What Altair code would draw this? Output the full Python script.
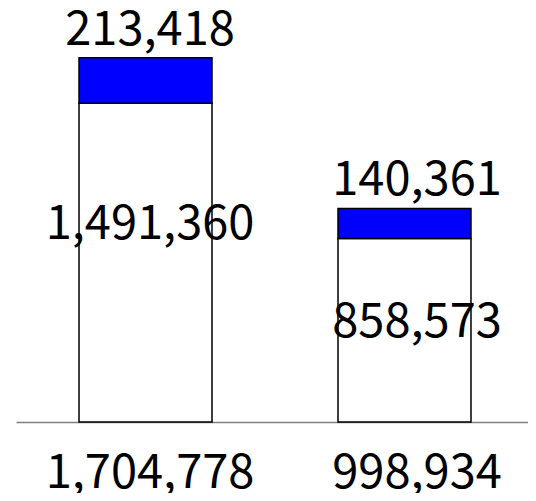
import altair as alt
import pandas as pd

categories = ["1", "2"]
base_values = [1491360, 858573]
top_values = [213418, 140361]
totals = [1704778, 998934]

rows = []
for c, b, t in zip(categories, base_values, top_values):
    rows.append({"cat": c, "part": "base", "order": 0, "value": b})
    rows.append({"cat": c, "part": "top", "order": 1, "value": t})
df = pd.DataFrame(rows)

lab = pd.DataFrame({
    "cat": categories,
    "base": base_values,
    "top": top_values,
    "total": totals,
})
lab["zero"] = 0

FONT = "Noto Sans CJK JP"
FS = 47

xscale = alt.Scale(paddingInner=0.4865, paddingOuter=0.2317, align=0.525)
x = alt.X("cat:N", sort=categories, scale=xscale,
          axis=alt.Axis(labels=False, ticks=False, title=None, grid=False,
                        domainColor="#808080", domainWidth=1.5))
yscale = alt.Scale(domain=[0, 1937000], nice=False, zero=True)

bars = alt.Chart(df).mark_bar(stroke="black", strokeWidth=1.5).encode(
    x=x,
    y=alt.Y("value:Q", stack="zero", scale=yscale, axis=None),
    color=alt.Color("part:N", scale=alt.Scale(domain=["base", "top"], range=["white", "#0000ff"]), legend=None),
    order=alt.Order("order:Q"),
)

xt = alt.X("cat:O", sort=categories, axis=None,
           scale=alt.Scale(type="point", padding=0.4588, align=0.547))

top_txt = alt.Chart(lab).mark_text(font=FONT, fontSize=FS, baseline="bottom", dy=-3, color="black").encode(
    x=xt,
    y=alt.Y("total:Q", scale=yscale),
    text=alt.Text("top:Q", format=",.0f"),
)

mid_txt = alt.Chart(lab).transform_calculate(
    labpos="datum.base * 0.725"
).mark_text(font=FONT, fontSize=FS, baseline="middle", dy=34, color="black").encode(
    x=xt,
    y=alt.Y("labpos:Q", scale=yscale),
    text=alt.Text("base:Q", format=",.0f"),
)

bot_txt = alt.Chart(lab).mark_text(font=FONT, fontSize=FS, baseline="alphabetic", dy=66, color="black").encode(
    x=xt,
    y=alt.Y("zero:Q", scale=yscale),
    text=alt.Text("total:Q", format=",.0f"),
)

texts = alt.layer(top_txt, mid_txt, bot_txt)

chart = alt.layer(bars, texts).resolve_scale(x="independent").properties(
    width=512, height=414,
    autosize=alt.AutoSizeParams(type="none"),
    padding={"left": 8, "top": 0, "right": 0, "bottom": 71},
).configure_view(stroke=None)

chart.save("out.html", embed_options={"renderer": "svg", "actions": False})
